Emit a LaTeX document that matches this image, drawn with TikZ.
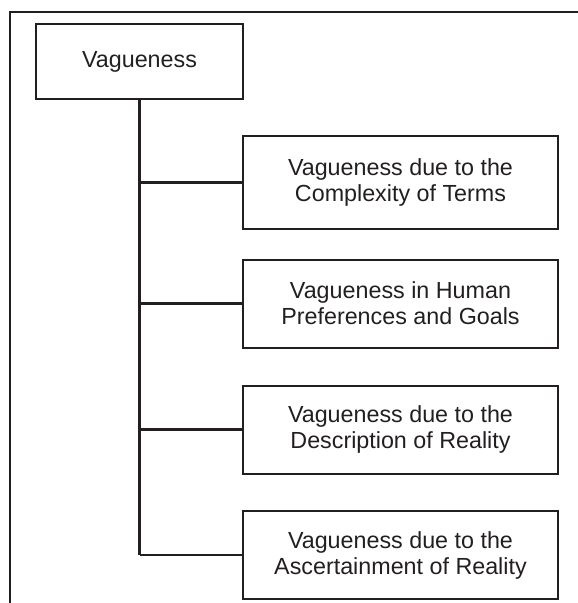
\documentclass[tikz,border=0pt]{standalone}
\usepackage{fontspec}
\setmainfont{Liberation Sans}
\usetikzlibrary{positioning}
\definecolor{ink}{RGB}{35,31,32}

\begin{document}
\begin{tikzpicture}[x=1pt,y=-1pt,
  box/.style={draw=ink,line width=2pt,rectangle,inner sep=0pt,align=center,
    text=ink,font=\fontsize{23.3}{26}\selectfont,
    minimum width=315pt,minimum height=88pt},
  rootbox/.style={box,minimum width=207pt,minimum height=75pt},
  link/.style={draw=ink,line width=2.4pt},
  trunk/.style={draw=ink,line width=3pt}]
\useasboundingbox (0,0) rectangle (578,603);

% frame, cut at the right and bottom
\draw[link] (578,12) -- (10,12) -- (10,603);

% root
\node[rootbox] (vague) at (139.5,61.5) {Vagueness};

% kinds of vagueness
\node[box,minimum height=93pt] (terms) at (400.5,182.5)
  {Vagueness due to the\\Complexity of Terms};
\node[box] (goals) at (400.5,303.5)
  {Vagueness in Human\\Preferences and Goals};
\node[box] (descr) at (400.5,429.5)
  {Vagueness due to the\\Description of Reality};
\node[box] (ascert) at (400.5,555)
  {Vagueness due to the\\Ascertainment of Reality};

% tree lines
\draw[trunk] (vague.south) -- (vague.south |- ascert.west);
\foreach \k in {terms,goals,descr,ascert}
  \draw[link] (vague.south |- \k.west) -- (\k.west);
\end{tikzpicture}
\end{document}
